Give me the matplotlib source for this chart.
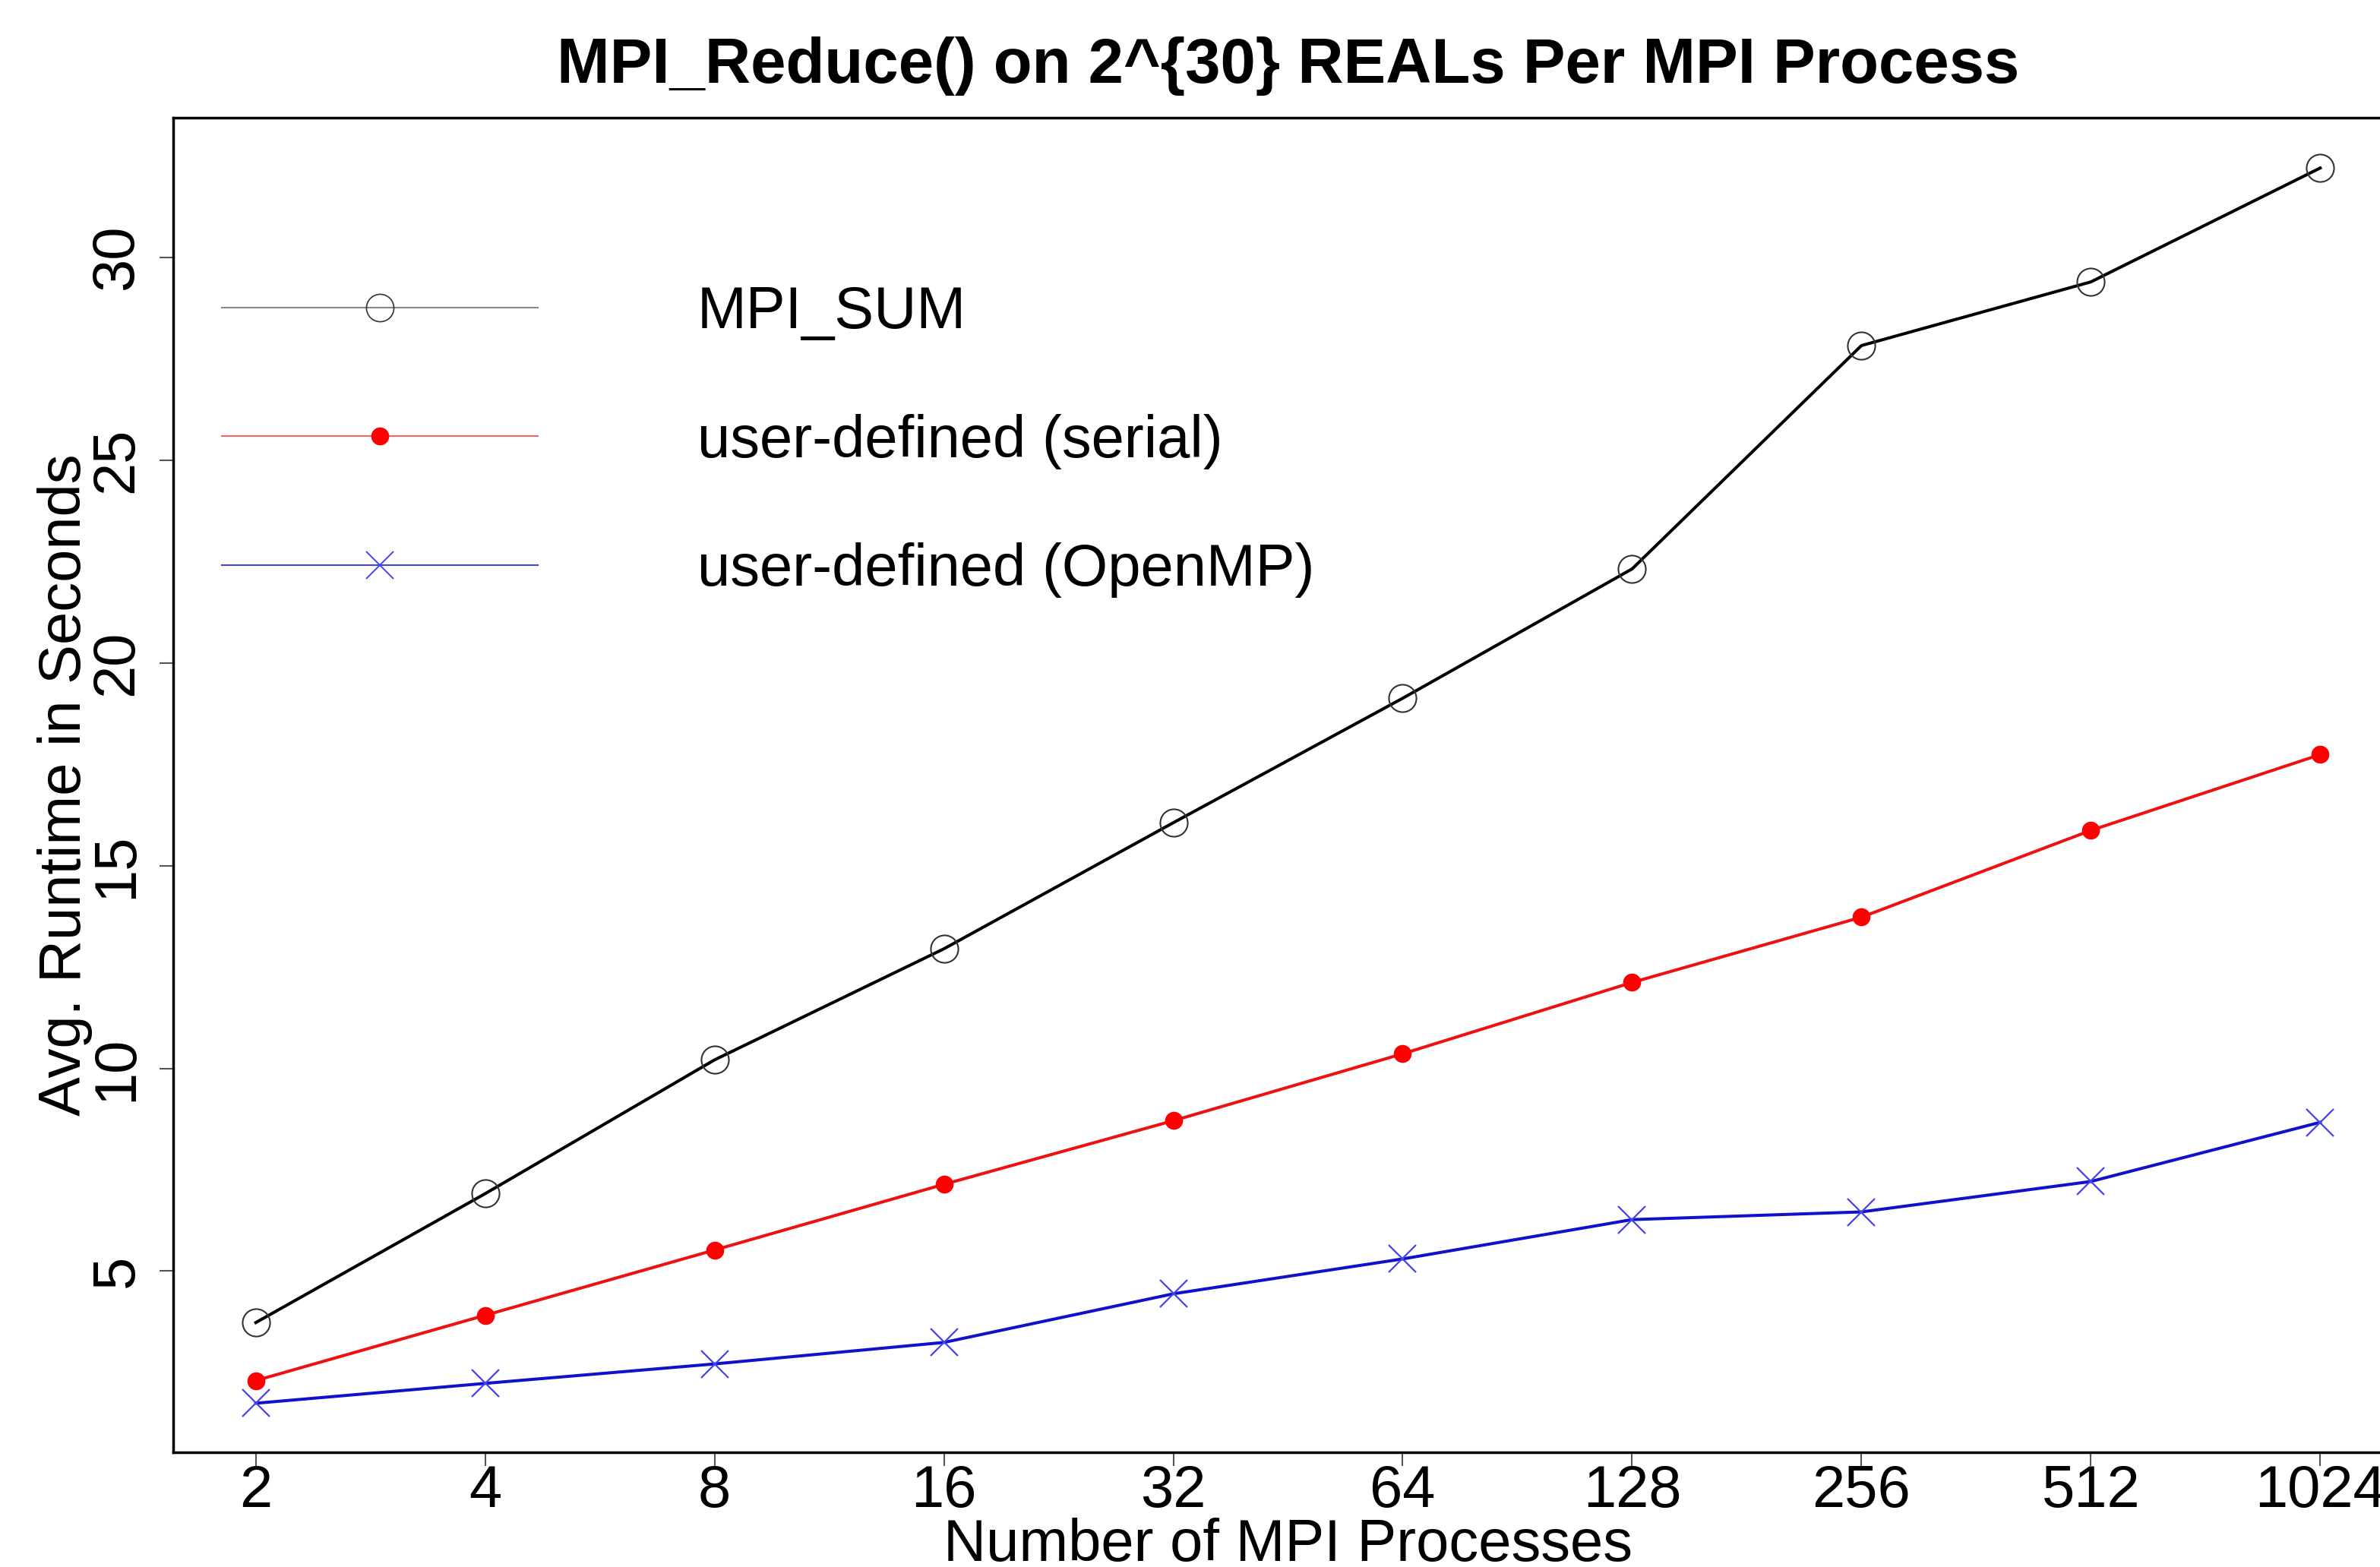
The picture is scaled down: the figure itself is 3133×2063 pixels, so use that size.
import matplotlib
matplotlib.use("Agg")
import matplotlib.pyplot as plt
from matplotlib.lines import Line2D

plt.rcParams['font.family'] = ['Liberation Sans', 'DejaVu Sans']

# data
processes = [2, 4, 8, 16, 32, 64, 128, 256, 512, 1024]
mpi_sum = [3.73, 6.91, 10.21, 12.95, 16.06, 19.13, 22.32, 27.83, 29.40, 32.21]
serial = [2.30, 3.91, 5.52, 7.14, 8.71, 10.36, 12.12, 13.73, 15.87, 17.74]
openmp = [1.74, 2.23, 2.71, 3.24, 4.44, 5.30, 6.27, 6.46, 7.21, 8.67]
labels = ['MPI_SUM', 'user-defined (serial)', 'user-defined (OpenMP)']
yticks = [5, 10, 15, 20, 25, 30]

W, H = 3133, 2063
fig = plt.figure(figsize=(W / 100, H / 100), dpi=100)
# axes box in pixels: left 228, right 3163 (runs past the image edge), top 155, bottom 1912
ax = fig.add_axes([228 / W, 1 - 1912 / H, (3163 - 228) / W, (1912 - 155) / H])

ax.plot(processes, mpi_sum, color='black', lw=2.9, marker='o', ms=26,
        mfc='none', mec='#333333', mew=1.5)
ax.plot(processes, serial, color='#ee1111', lw=2.9, marker='o', ms=17,
        mfc='red', mec='red', mew=0)
ax.plot(processes, openmp, color='#1111cc', lw=2.9, marker='x', ms=26,
        mec='#4444ee', mew=1.6)

ax.set_xscale('log', base=2)
ax.set_xlim(2 ** 0.64, 2 ** 10.36)
ax.set_ylim(0.53, 33.45)
ax.set_xticks(processes)
ax.set_xticklabels([str(p) for p in processes])
ax.minorticks_off()
ax.set_yticks(yticks)
ax.set_yticklabels([str(v) for v in yticks], rotation=90, va='center')

ax.tick_params(axis='both', direction='out', length=13, width=1.5, color='#555555',
               labelsize=56)
ax.tick_params(axis='x', pad=-2)
ax.tick_params(axis='y', pad=14)
for s in ax.spines.values():
    s.set_linewidth(2.5)
    s.set_color('black')

ax.set_title('MPI_Reduce() on 2^{30} REALs Per MPI Process', fontsize=60,
             fontweight='bold', pad=33)
ax.set_xlabel('Number of MPI Processes', fontsize=56)
ax.set_ylabel('Avg. Runtime in Seconds', fontsize=56)
ax.xaxis.set_label_coords(0.5, -0.049)
ax.yaxis.set_label_coords(-0.036, 0.5)

handles = [
    Line2D([], [], color='#888888', lw=1.5, marker='o', ms=26, mfc='none',
           mec='#333333', mew=1.2),
    Line2D([], [], color='#ee6666', lw=1.5, marker='o', ms=17, mfc='red',
           mec='red', mew=0),
    Line2D([], [], color='#4444cc', lw=1.5, marker='x', ms=26, mec='#4444ee',
           mew=1.4),
]
ax.legend(handles, labels, loc='center left',
          bbox_to_anchor=(292 / W, 1 - 581 / H), bbox_transform=fig.transFigure,
          frameon=False, fontsize=56, handlelength=5.35, handletextpad=2.7,
          labelspacing=1.24, borderpad=0, borderaxespad=0, numpoints=1)

fig.savefig('out.png', dpi=100)
